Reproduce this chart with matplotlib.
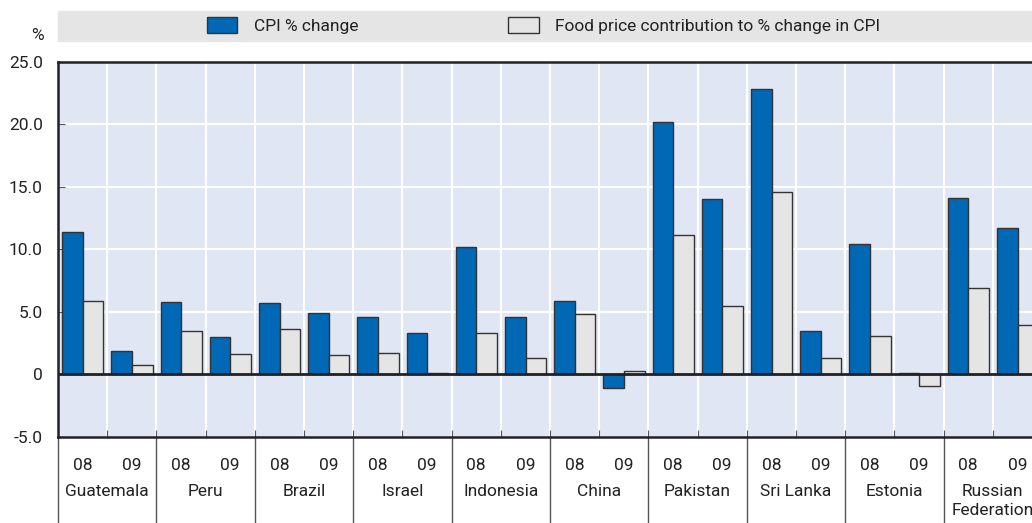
import numpy as np
import matplotlib.pyplot as plt
from matplotlib.patches import Rectangle

plt.rcParams['font.family'] = ['Roboto', 'DejaVu Sans']

countries = ["Guatemala", "Peru", "Brazil", "Israel", "Indonesia", "China",
             "Pakistan", "Sri Lanka", "Estonia", "Russian\nFederation"]
years = ["08", "09"]

# one value per country-year: 08, 09, 08, 09, ...
cpi_change = [11.4, 1.9, 5.8, 3.0, 5.7, 4.9, 4.6, 3.3, 10.2, 4.6,
              5.9, -1.05, 20.2, 14.0, 22.8, 3.5, 10.4, 0.08, 14.1, 11.7]
food_contrib = [5.9, 0.75, 3.5, 1.6, 3.6, 1.55, 1.7, 0.15, 3.3, 1.35,
                4.8, 0.25, 11.1, 5.5, 14.6, 1.3, 3.1, -0.95, 6.9, 3.95]

W, H = 1032, 523
fig = plt.figure(figsize=(W / 100, H / 100), dpi=100)

# axes run a bit past the right edge, as in the original (last bar is cut)
x0, x1, y_top, y_bot = 58, 1042, 61.5, 437
ax = fig.add_axes([x0 / W, (H - y_bot) / H, (x1 - x0) / W, (y_bot - y_top) / H])
ax.set_facecolor('#e0e6f4')

n = len(cpi_change)
slots = np.arange(n)
bw = 0.417
ax.bar(slots + 0.087, cpi_change, width=bw, align='edge', color='#0068b4',
       edgecolor='#333333', linewidth=1, zorder=3)
ax.bar(slots + 0.087 + bw, food_contrib, width=bw, align='edge', color='#e5e5e5',
       edgecolor='#333333', linewidth=1, zorder=3)

ax.set_xlim(0, n)
ax.set_ylim(-5, 25)

fs = 12.5
yt = [-5, 0, 5, 10, 15, 20, 25]
ax.set_yticks(yt)
ax.set_yticklabels(["-5.0", "0", "5.0", "10.0", "15.0", "20.0", "25.0"])
ax.tick_params(axis='y', direction='in', length=5, color='#555555', labelsize=fs,
               pad=11, labelcolor='#222222')
ax.set_xticks(np.arange(1, n))
ax.set_xticklabels([])
ax.tick_params(axis='x', direction='in', length=5, color='#555555')

for v in [5, 10, 15, 20]:
    ax.axhline(v, color='white', lw=1.5, zorder=1)
for i in range(1, n):
    ax.axvline(i, color='white', lw=1.5, zorder=1)
ax.axhline(0, color='#222222', lw=2, zorder=4)

for s in ['left', 'top', 'bottom']:
    ax.spines[s].set_color('#222222')
    ax.spines[s].set_linewidth(1.8)
ax.spines['right'].set_visible(False)

# category table under the axis
tr = ax.get_xaxis_transform()
ph = y_bot - y_top
for i in range(n):
    ax.text(i + 0.5, -28 / ph, years[i % 2], transform=tr, ha='center', va='center',
            fontsize=fs, color='#222222')
for k, c in enumerate(countries):
    ax.text(2 * k + 1, -47 / ph, c, transform=tr, ha='center', va='top',
            fontsize=fs, color='#222222', linespacing=1.35)
for k in range(len(countries) + 1):
    ax.plot([2 * k, 2 * k], [0, -90 / ph], transform=tr, color='#555555', lw=1,
            clip_on=False)

# legend band
fig.patches.append(Rectangle((x0 / W, (H - 41) / H), 1 - x0 / W, 30 / H,
                             transform=fig.transFigure, color='#e5e5e5', zorder=0))
fig.patches.append(Rectangle((207 / W, (H - 33) / H), 30 / W, 16 / H,
                             transform=fig.transFigure, facecolor='#0068b4',
                             edgecolor='#333333', lw=1))
fig.patches.append(Rectangle((508 / W, (H - 33) / H), 31 / W, 16 / H,
                             transform=fig.transFigure, facecolor='#e5e5e5',
                             edgecolor='#333333', lw=1))
fig.text(254 / W, (H - 26) / H, "CPI % change", ha='left', va='center',
         fontsize=fs, color='#222222')
fig.text(555 / W, (H - 26) / H, "Food price contribution to % change in CPI",
         ha='left', va='center', fontsize=fs, color='#222222')
fig.text(37 / W, (H - 35) / H, "%", ha='center', va='center', fontsize=fs,
         color='#222222')

fig.savefig("out.png", dpi=100)
